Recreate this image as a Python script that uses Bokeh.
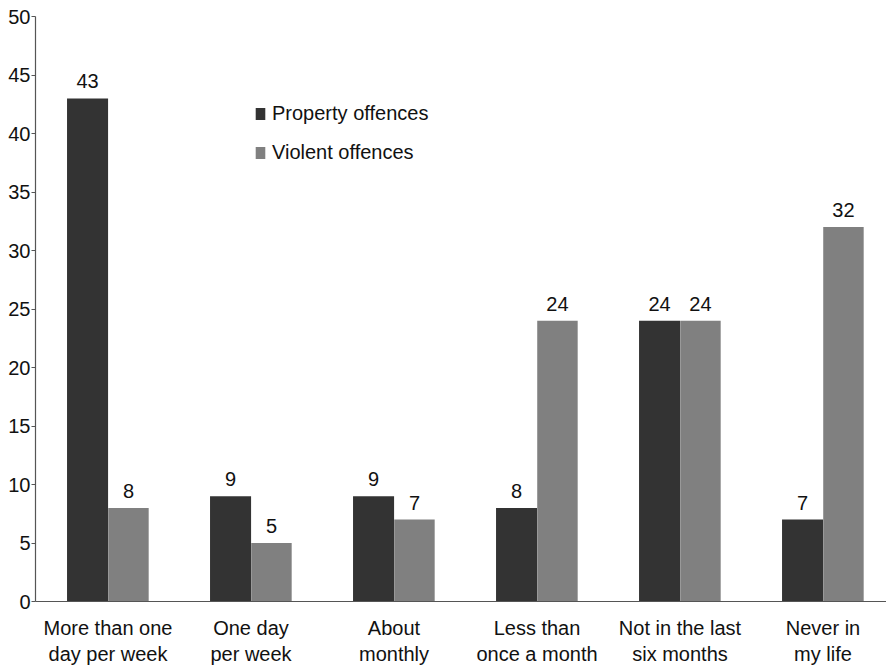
from bokeh.plotting import figure
from bokeh.models import ColumnDataSource, Range1d, FixedTicker, Legend, LegendItem, LabelSet
from bokeh.core.properties import value
from bokeh.embed import file_html
from bokeh.resources import INLINE

categories = ["More than one\nday per week", "One day\nper week", "About\nmonthly",
              "Less than\nonce a month", "Not in the last\nsix months", "Never in\nmy life"]
property_offences = [43, 9, 9, 8, 24, 7]
violent_offences = [8, 5, 7, 24, 24, 32]
y_ticks = [0, 5, 10, 15, 20, 25, 30, 35, 40, 45, 50]

xs = list(range(len(categories)))
dark = "#333333"
light = "#808080"
FONT = "Liberation Sans"

p = figure(width=886, height=667, output_backend="svg", toolbar_location=None,
           x_range=Range1d(-0.507, 5.444), y_range=Range1d(0, 50),
           min_border_left=35, min_border_right=0, min_border_top=16, min_border_bottom=63)
p.outline_line_color = None
p.xgrid.visible = False
p.ygrid.visible = False

src_p = ColumnDataSource(dict(x=[x - 0.143 for x in xs], y=property_offences,
                              lab=[str(v) for v in property_offences]))
src_v = ColumnDataSource(dict(x=[x + 0.143 for x in xs], y=violent_offences,
                              lab=[str(v) for v in violent_offences]))
r1 = p.vbar(x="x", top="y", width=0.287, source=src_p, fill_color=dark, line_color=None)
r2 = p.vbar(x="x", top="y", width=0.283, source=src_v, fill_color=light, line_color=None)

for src in (src_p, src_v):
    p.add_layout(LabelSet(x="x", y="y", text="lab", source=src, text_align="center",
                          text_baseline="bottom", y_offset=10, text_font=value(FONT),
                          text_font_size="20px", text_color="#111111"))

# axes
p.xaxis.ticker = FixedTicker(ticks=xs)
p.xaxis.major_label_overrides = {i: c for i, c in enumerate(categories)}
p.xaxis.major_tick_line_color = None
p.xaxis.minor_tick_line_color = None
p.xaxis.axis_line_color = "#555555"
p.xaxis.axis_line_width = 1.2
p.xaxis.major_label_text_font = FONT
p.xaxis.major_label_text_font_size = "20px"
p.xaxis.major_label_text_color = "#111111"
p.xaxis.major_label_standoff = 9

p.yaxis.ticker = FixedTicker(ticks=y_ticks)
p.yaxis.minor_tick_line_color = None
p.yaxis.major_tick_out = 4
p.yaxis.major_tick_in = 0
p.yaxis.major_tick_line_color = "#555555"
p.yaxis.axis_line_color = "#555555"
p.yaxis.axis_line_width = 1.2
p.yaxis.major_label_text_font = FONT
p.yaxis.major_label_text_font_size = "20px"
p.yaxis.major_label_text_color = "#111111"
p.yaxis.major_label_standoff = 1

legend = Legend(items=[LegendItem(label="Property offences", renderers=[r1]),
                       LegendItem(label="Violent offences", renderers=[r2])],
                location=(219, 437))
legend.background_fill_alpha = 0
legend.border_line_color = None
legend.label_text_font = FONT
legend.label_text_font_size = "20px"
legend.label_text_color = "#111111"
legend.glyph_width = 12
legend.glyph_height = 15
legend.spacing = 16
legend.label_standoff = 6
legend.padding = 0
legend.margin = 0
p.add_layout(legend)

open("out.html", "w").write(file_html(p, INLINE))
